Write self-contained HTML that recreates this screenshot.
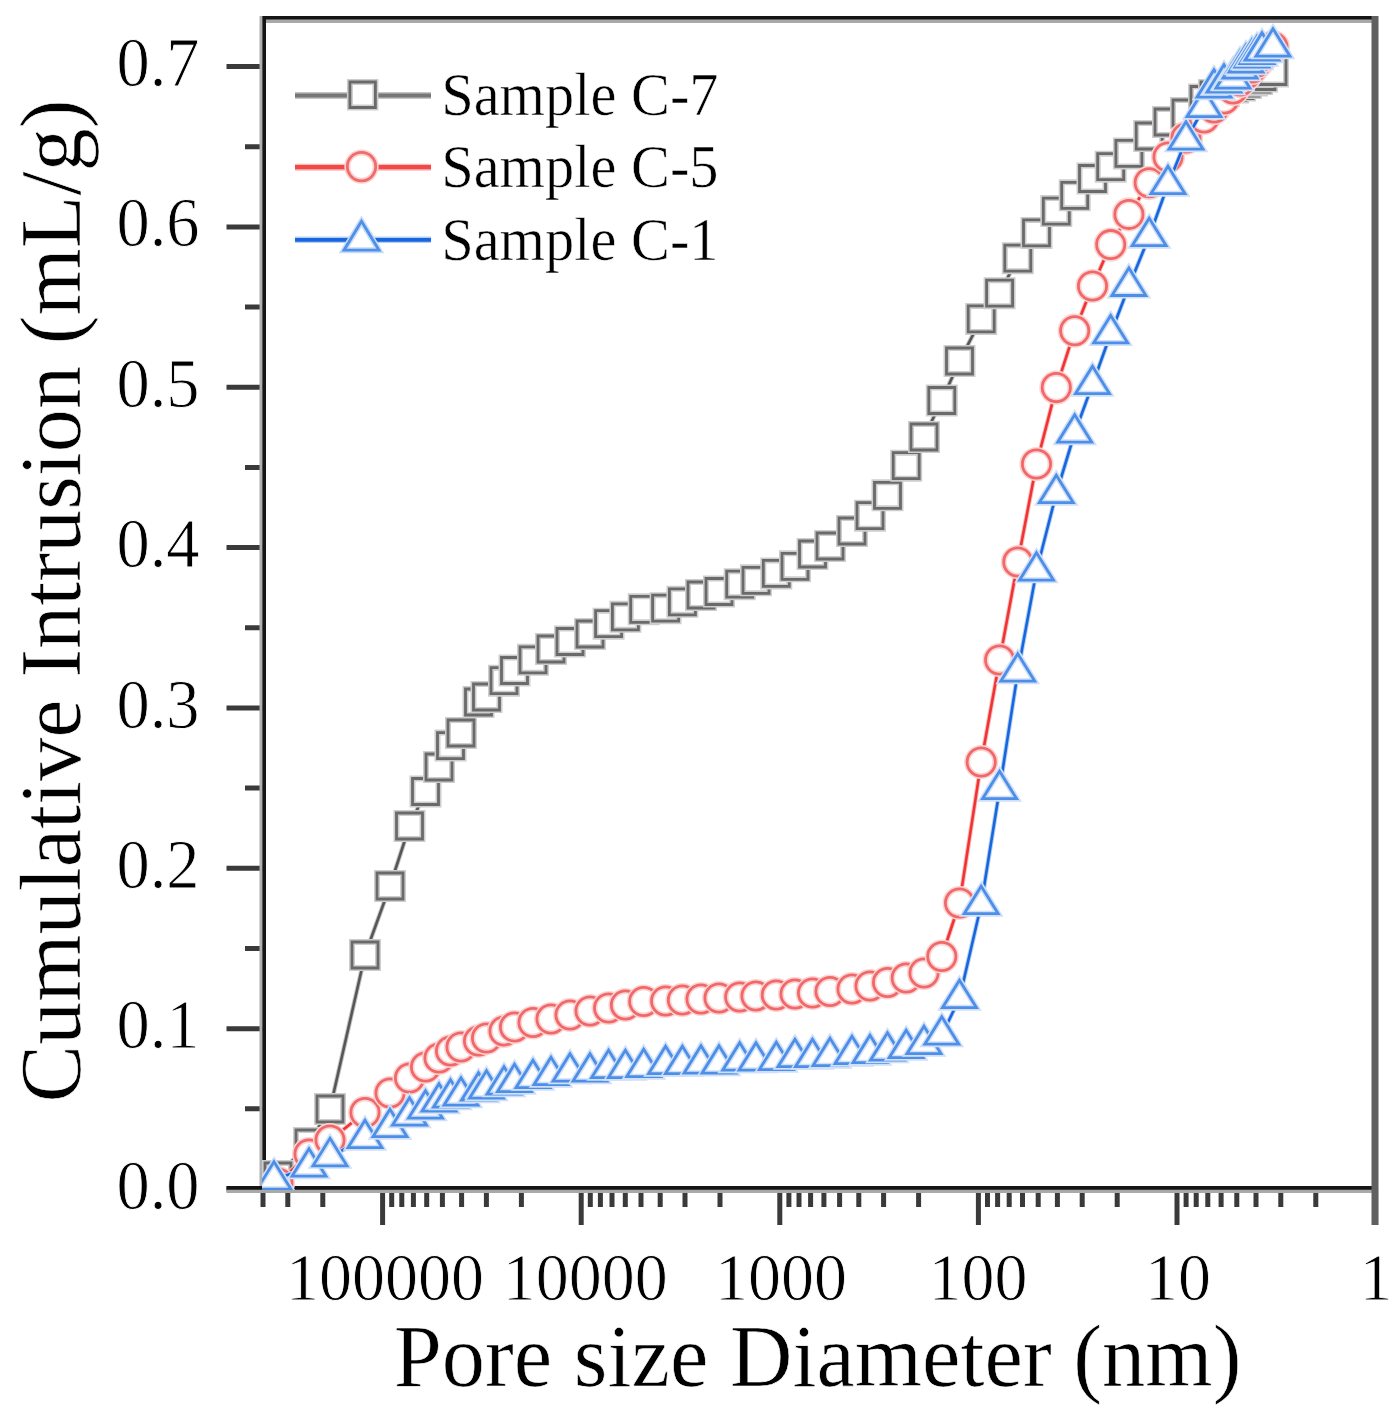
<!DOCTYPE html><html><head><meta charset="utf-8"><style>html,body{margin:0;padding:0;background:#fff;}svg{display:block;}text{font-family:"Liberation Serif",serif;fill:#000;}</style></head><body>
<svg width="1396" height="1416" viewBox="0 0 1396 1416">
<rect width="1396" height="1416" fill="#fff"/>
<g>
<path d="M226.5 1189.0H263 M226.5 1028.7H263 M226.5 868.3H263 M226.5 708.0H263 M226.5 547.6H263 M226.5 387.2H263 M226.5 226.9H263 M226.5 66.6H263 M245 1108.8H263 M245 948.5H263 M245 788.1H263 M245 627.8H263 M245 467.4H263 M245 307.1H263 M245 146.7H263" stroke="#3a3a3a" stroke-width="5" fill="none"/>
<path d="M1375.6 1189V1225 M1177.0 1189V1225 M978.4 1189V1225 M779.8 1189V1225 M581.2 1189V1225 M382.6 1189V1225 M1315.8 1189V1207 M1280.8 1189V1207 M1256.0 1189V1207 M1236.8 1189V1207 M1221.1 1189V1207 M1207.8 1189V1207 M1196.2 1189V1207 M1186.1 1189V1207 M1117.2 1189V1207 M1082.2 1189V1207 M1057.4 1189V1207 M1038.2 1189V1207 M1022.5 1189V1207 M1009.2 1189V1207 M997.6 1189V1207 M987.5 1189V1207 M918.6 1189V1207 M883.6 1189V1207 M858.8 1189V1207 M839.6 1189V1207 M823.9 1189V1207 M810.6 1189V1207 M799.0 1189V1207 M788.9 1189V1207 M720.0 1189V1207 M685.0 1189V1207 M660.2 1189V1207 M641.0 1189V1207 M625.3 1189V1207 M612.0 1189V1207 M600.4 1189V1207 M590.3 1189V1207 M521.4 1189V1207 M486.4 1189V1207 M461.6 1189V1207 M442.4 1189V1207 M426.7 1189V1207 M413.4 1189V1207 M401.8 1189V1207 M391.7 1189V1207 M322.8 1189V1207 M287.8 1189V1207 M263.0 1189V1207" stroke="#3a3a3a" stroke-width="5" fill="none"/>
<path d="M261 19.5H1376.5" stroke="#a9a9a9" stroke-width="7" fill="none"/>
<path d="M261 17.8H1375" stroke="#151515" stroke-width="3.6" fill="none"/>
<path d="M261.2 16V1191" stroke="#b0b0b0" stroke-width="3.4" fill="none"/>
<path d="M264.2 16V1191" stroke="#151515" stroke-width="3.6" fill="none"/>
<path d="M226.5 1189.5H1376" stroke="#a9a9a9" stroke-width="7" fill="none"/>
<path d="M226.5 1187.9H1375" stroke="#151515" stroke-width="3.8" fill="none"/>
<path d="M1375 16V1225" stroke="#606060" stroke-width="7" fill="none"/>
<defs><clipPath id="pc"><rect x="262" y="17" width="1114" height="1173"/></clipPath></defs><g clip-path="url(#pc)">
<path d="M278.0 1176.0 L309.0 1143.0 L330.0 1109.0 L365.0 955.0 L390.0 886.0 L409.5 826.0 L425.5 791.5 L439.0 767.0 L450.5 745.6 L461.0 733.0 L478.5 702.0 L486.5 697.0 L504.0 680.7 L514.5 670.5 L533.0 659.8 L551.0 649.0 L570.0 641.5 L590.0 634.0 L608.6 623.7 L625.4 616.8 L643.7 609.3 L665.6 608.2 L682.4 601.8 L701.0 595.0 L719.0 591.5 L739.7 584.2 L756.0 580.3 L776.3 573.4 L795.0 566.3 L812.5 554.0 L830.0 546.0 L852.0 531.0 L870.0 515.7 L887.5 495.3 L906.2 465.7 L924.0 437.0 L941.8 400.5 L959.5 361.0 L981.2 318.9 L999.6 293.2 L1017.8 258.2 L1036.5 232.9 L1056.3 211.1 L1074.7 195.3 L1092.5 178.5 L1110.7 166.7 L1128.9 153.4 L1149.2 136.0 L1168.0 122.0 L1186.0 113.0 L1204.0 99.5 L1214.0 95.0 L1224.0 91.0 L1233.0 87.5 L1240.0 85.5 L1246.0 83.0 L1252.0 80.5 L1257.0 79.0 L1262.0 76.5 L1273.0 71.5" stroke="#c4c4c4" stroke-width="4.6" fill="none" stroke-linejoin="round"/>
<path d="M278.0 1176.0 L309.0 1143.0 L330.0 1109.0 L365.0 955.0 L390.0 886.0 L409.5 826.0 L425.5 791.5 L439.0 767.0 L450.5 745.6 L461.0 733.0 L478.5 702.0 L486.5 697.0 L504.0 680.7 L514.5 670.5 L533.0 659.8 L551.0 649.0 L570.0 641.5 L590.0 634.0 L608.6 623.7 L625.4 616.8 L643.7 609.3 L665.6 608.2 L682.4 601.8 L701.0 595.0 L719.0 591.5 L739.7 584.2 L756.0 580.3 L776.3 573.4 L795.0 566.3 L812.5 554.0 L830.0 546.0 L852.0 531.0 L870.0 515.7 L887.5 495.3 L906.2 465.7 L924.0 437.0 L941.8 400.5 L959.5 361.0 L981.2 318.9 L999.6 293.2 L1017.8 258.2 L1036.5 232.9 L1056.3 211.1 L1074.7 195.3 L1092.5 178.5 L1110.7 166.7 L1128.9 153.4 L1149.2 136.0 L1168.0 122.0 L1186.0 113.0 L1204.0 99.5 L1214.0 95.0 L1224.0 91.0 L1233.0 87.5 L1240.0 85.5 L1246.0 83.0 L1252.0 80.5 L1257.0 79.0 L1262.0 76.5 L1273.0 71.5" stroke="#575757" stroke-width="2.6" fill="none" stroke-linejoin="round"/>
<g><path d="M265.0 1163.0h26v26h-26Z" fill="#fff" stroke="#cdcdcd" stroke-width="6"/><path d="M265.0 1163.0h26v26h-26Z" fill="none" stroke="#6a6a6a" stroke-width="2.8"/><path d="M296.0 1130.0h26v26h-26Z" fill="#fff" stroke="#cdcdcd" stroke-width="6"/><path d="M296.0 1130.0h26v26h-26Z" fill="none" stroke="#6a6a6a" stroke-width="2.8"/><path d="M317.0 1096.0h26v26h-26Z" fill="#fff" stroke="#cdcdcd" stroke-width="6"/><path d="M317.0 1096.0h26v26h-26Z" fill="none" stroke="#6a6a6a" stroke-width="2.8"/><path d="M352.0 942.0h26v26h-26Z" fill="#fff" stroke="#cdcdcd" stroke-width="6"/><path d="M352.0 942.0h26v26h-26Z" fill="none" stroke="#6a6a6a" stroke-width="2.8"/><path d="M377.0 873.0h26v26h-26Z" fill="#fff" stroke="#cdcdcd" stroke-width="6"/><path d="M377.0 873.0h26v26h-26Z" fill="none" stroke="#6a6a6a" stroke-width="2.8"/><path d="M396.5 813.0h26v26h-26Z" fill="#fff" stroke="#cdcdcd" stroke-width="6"/><path d="M396.5 813.0h26v26h-26Z" fill="none" stroke="#6a6a6a" stroke-width="2.8"/><path d="M412.5 778.5h26v26h-26Z" fill="#fff" stroke="#cdcdcd" stroke-width="6"/><path d="M412.5 778.5h26v26h-26Z" fill="none" stroke="#6a6a6a" stroke-width="2.8"/><path d="M426.0 754.0h26v26h-26Z" fill="#fff" stroke="#cdcdcd" stroke-width="6"/><path d="M426.0 754.0h26v26h-26Z" fill="none" stroke="#6a6a6a" stroke-width="2.8"/><path d="M437.5 732.6h26v26h-26Z" fill="#fff" stroke="#cdcdcd" stroke-width="6"/><path d="M437.5 732.6h26v26h-26Z" fill="none" stroke="#6a6a6a" stroke-width="2.8"/><path d="M448.0 720.0h26v26h-26Z" fill="#fff" stroke="#cdcdcd" stroke-width="6"/><path d="M448.0 720.0h26v26h-26Z" fill="none" stroke="#6a6a6a" stroke-width="2.8"/><path d="M465.5 689.0h26v26h-26Z" fill="#fff" stroke="#cdcdcd" stroke-width="6"/><path d="M465.5 689.0h26v26h-26Z" fill="none" stroke="#6a6a6a" stroke-width="2.8"/><path d="M473.5 684.0h26v26h-26Z" fill="#fff" stroke="#cdcdcd" stroke-width="6"/><path d="M473.5 684.0h26v26h-26Z" fill="none" stroke="#6a6a6a" stroke-width="2.8"/><path d="M491.0 667.7h26v26h-26Z" fill="#fff" stroke="#cdcdcd" stroke-width="6"/><path d="M491.0 667.7h26v26h-26Z" fill="none" stroke="#6a6a6a" stroke-width="2.8"/><path d="M501.5 657.5h26v26h-26Z" fill="#fff" stroke="#cdcdcd" stroke-width="6"/><path d="M501.5 657.5h26v26h-26Z" fill="none" stroke="#6a6a6a" stroke-width="2.8"/><path d="M520.0 646.8h26v26h-26Z" fill="#fff" stroke="#cdcdcd" stroke-width="6"/><path d="M520.0 646.8h26v26h-26Z" fill="none" stroke="#6a6a6a" stroke-width="2.8"/><path d="M538.0 636.0h26v26h-26Z" fill="#fff" stroke="#cdcdcd" stroke-width="6"/><path d="M538.0 636.0h26v26h-26Z" fill="none" stroke="#6a6a6a" stroke-width="2.8"/><path d="M557.0 628.5h26v26h-26Z" fill="#fff" stroke="#cdcdcd" stroke-width="6"/><path d="M557.0 628.5h26v26h-26Z" fill="none" stroke="#6a6a6a" stroke-width="2.8"/><path d="M577.0 621.0h26v26h-26Z" fill="#fff" stroke="#cdcdcd" stroke-width="6"/><path d="M577.0 621.0h26v26h-26Z" fill="none" stroke="#6a6a6a" stroke-width="2.8"/><path d="M595.6 610.7h26v26h-26Z" fill="#fff" stroke="#cdcdcd" stroke-width="6"/><path d="M595.6 610.7h26v26h-26Z" fill="none" stroke="#6a6a6a" stroke-width="2.8"/><path d="M612.4 603.8h26v26h-26Z" fill="#fff" stroke="#cdcdcd" stroke-width="6"/><path d="M612.4 603.8h26v26h-26Z" fill="none" stroke="#6a6a6a" stroke-width="2.8"/><path d="M630.7 596.3h26v26h-26Z" fill="#fff" stroke="#cdcdcd" stroke-width="6"/><path d="M630.7 596.3h26v26h-26Z" fill="none" stroke="#6a6a6a" stroke-width="2.8"/><path d="M652.6 595.2h26v26h-26Z" fill="#fff" stroke="#cdcdcd" stroke-width="6"/><path d="M652.6 595.2h26v26h-26Z" fill="none" stroke="#6a6a6a" stroke-width="2.8"/><path d="M669.4 588.8h26v26h-26Z" fill="#fff" stroke="#cdcdcd" stroke-width="6"/><path d="M669.4 588.8h26v26h-26Z" fill="none" stroke="#6a6a6a" stroke-width="2.8"/><path d="M688.0 582.0h26v26h-26Z" fill="#fff" stroke="#cdcdcd" stroke-width="6"/><path d="M688.0 582.0h26v26h-26Z" fill="none" stroke="#6a6a6a" stroke-width="2.8"/><path d="M706.0 578.5h26v26h-26Z" fill="#fff" stroke="#cdcdcd" stroke-width="6"/><path d="M706.0 578.5h26v26h-26Z" fill="none" stroke="#6a6a6a" stroke-width="2.8"/><path d="M726.7 571.2h26v26h-26Z" fill="#fff" stroke="#cdcdcd" stroke-width="6"/><path d="M726.7 571.2h26v26h-26Z" fill="none" stroke="#6a6a6a" stroke-width="2.8"/><path d="M743.0 567.3h26v26h-26Z" fill="#fff" stroke="#cdcdcd" stroke-width="6"/><path d="M743.0 567.3h26v26h-26Z" fill="none" stroke="#6a6a6a" stroke-width="2.8"/><path d="M763.3 560.4h26v26h-26Z" fill="#fff" stroke="#cdcdcd" stroke-width="6"/><path d="M763.3 560.4h26v26h-26Z" fill="none" stroke="#6a6a6a" stroke-width="2.8"/><path d="M782.0 553.3h26v26h-26Z" fill="#fff" stroke="#cdcdcd" stroke-width="6"/><path d="M782.0 553.3h26v26h-26Z" fill="none" stroke="#6a6a6a" stroke-width="2.8"/><path d="M799.5 541.0h26v26h-26Z" fill="#fff" stroke="#cdcdcd" stroke-width="6"/><path d="M799.5 541.0h26v26h-26Z" fill="none" stroke="#6a6a6a" stroke-width="2.8"/><path d="M817.0 533.0h26v26h-26Z" fill="#fff" stroke="#cdcdcd" stroke-width="6"/><path d="M817.0 533.0h26v26h-26Z" fill="none" stroke="#6a6a6a" stroke-width="2.8"/><path d="M839.0 518.0h26v26h-26Z" fill="#fff" stroke="#cdcdcd" stroke-width="6"/><path d="M839.0 518.0h26v26h-26Z" fill="none" stroke="#6a6a6a" stroke-width="2.8"/><path d="M857.0 502.7h26v26h-26Z" fill="#fff" stroke="#cdcdcd" stroke-width="6"/><path d="M857.0 502.7h26v26h-26Z" fill="none" stroke="#6a6a6a" stroke-width="2.8"/><path d="M874.5 482.3h26v26h-26Z" fill="#fff" stroke="#cdcdcd" stroke-width="6"/><path d="M874.5 482.3h26v26h-26Z" fill="none" stroke="#6a6a6a" stroke-width="2.8"/><path d="M893.2 452.7h26v26h-26Z" fill="#fff" stroke="#cdcdcd" stroke-width="6"/><path d="M893.2 452.7h26v26h-26Z" fill="none" stroke="#6a6a6a" stroke-width="2.8"/><path d="M911.0 424.0h26v26h-26Z" fill="#fff" stroke="#cdcdcd" stroke-width="6"/><path d="M911.0 424.0h26v26h-26Z" fill="none" stroke="#6a6a6a" stroke-width="2.8"/><path d="M928.8 387.5h26v26h-26Z" fill="#fff" stroke="#cdcdcd" stroke-width="6"/><path d="M928.8 387.5h26v26h-26Z" fill="none" stroke="#6a6a6a" stroke-width="2.8"/><path d="M946.5 348.0h26v26h-26Z" fill="#fff" stroke="#cdcdcd" stroke-width="6"/><path d="M946.5 348.0h26v26h-26Z" fill="none" stroke="#6a6a6a" stroke-width="2.8"/><path d="M968.2 305.9h26v26h-26Z" fill="#fff" stroke="#cdcdcd" stroke-width="6"/><path d="M968.2 305.9h26v26h-26Z" fill="none" stroke="#6a6a6a" stroke-width="2.8"/><path d="M986.6 280.2h26v26h-26Z" fill="#fff" stroke="#cdcdcd" stroke-width="6"/><path d="M986.6 280.2h26v26h-26Z" fill="none" stroke="#6a6a6a" stroke-width="2.8"/><path d="M1004.8 245.2h26v26h-26Z" fill="#fff" stroke="#cdcdcd" stroke-width="6"/><path d="M1004.8 245.2h26v26h-26Z" fill="none" stroke="#6a6a6a" stroke-width="2.8"/><path d="M1023.5 219.9h26v26h-26Z" fill="#fff" stroke="#cdcdcd" stroke-width="6"/><path d="M1023.5 219.9h26v26h-26Z" fill="none" stroke="#6a6a6a" stroke-width="2.8"/><path d="M1043.3 198.1h26v26h-26Z" fill="#fff" stroke="#cdcdcd" stroke-width="6"/><path d="M1043.3 198.1h26v26h-26Z" fill="none" stroke="#6a6a6a" stroke-width="2.8"/><path d="M1061.7 182.3h26v26h-26Z" fill="#fff" stroke="#cdcdcd" stroke-width="6"/><path d="M1061.7 182.3h26v26h-26Z" fill="none" stroke="#6a6a6a" stroke-width="2.8"/><path d="M1079.5 165.5h26v26h-26Z" fill="#fff" stroke="#cdcdcd" stroke-width="6"/><path d="M1079.5 165.5h26v26h-26Z" fill="none" stroke="#6a6a6a" stroke-width="2.8"/><path d="M1097.7 153.7h26v26h-26Z" fill="#fff" stroke="#cdcdcd" stroke-width="6"/><path d="M1097.7 153.7h26v26h-26Z" fill="none" stroke="#6a6a6a" stroke-width="2.8"/><path d="M1115.9 140.4h26v26h-26Z" fill="#fff" stroke="#cdcdcd" stroke-width="6"/><path d="M1115.9 140.4h26v26h-26Z" fill="none" stroke="#6a6a6a" stroke-width="2.8"/><path d="M1136.2 123.0h26v26h-26Z" fill="#fff" stroke="#cdcdcd" stroke-width="6"/><path d="M1136.2 123.0h26v26h-26Z" fill="none" stroke="#6a6a6a" stroke-width="2.8"/><path d="M1155.0 109.0h26v26h-26Z" fill="#fff" stroke="#cdcdcd" stroke-width="6"/><path d="M1155.0 109.0h26v26h-26Z" fill="none" stroke="#6a6a6a" stroke-width="2.8"/><path d="M1173.0 100.0h26v26h-26Z" fill="#fff" stroke="#cdcdcd" stroke-width="6"/><path d="M1173.0 100.0h26v26h-26Z" fill="none" stroke="#6a6a6a" stroke-width="2.8"/><path d="M1191.0 86.5h26v26h-26Z" fill="#fff" stroke="#cdcdcd" stroke-width="6"/><path d="M1191.0 86.5h26v26h-26Z" fill="none" stroke="#6a6a6a" stroke-width="2.8"/><path d="M1201.0 82.0h26v26h-26Z" fill="#fff" stroke="#cdcdcd" stroke-width="6"/><path d="M1201.0 82.0h26v26h-26Z" fill="none" stroke="#6a6a6a" stroke-width="2.8"/><path d="M1211.0 78.0h26v26h-26Z" fill="#fff" stroke="#cdcdcd" stroke-width="6"/><path d="M1211.0 78.0h26v26h-26Z" fill="none" stroke="#6a6a6a" stroke-width="2.8"/><path d="M1220.0 74.5h26v26h-26Z" fill="#fff" stroke="#cdcdcd" stroke-width="6"/><path d="M1220.0 74.5h26v26h-26Z" fill="none" stroke="#6a6a6a" stroke-width="2.8"/><path d="M1227.0 72.5h26v26h-26Z" fill="#fff" stroke="#cdcdcd" stroke-width="6"/><path d="M1227.0 72.5h26v26h-26Z" fill="none" stroke="#6a6a6a" stroke-width="2.8"/><path d="M1233.0 70.0h26v26h-26Z" fill="#fff" stroke="#cdcdcd" stroke-width="6"/><path d="M1233.0 70.0h26v26h-26Z" fill="none" stroke="#6a6a6a" stroke-width="2.8"/><path d="M1239.0 67.5h26v26h-26Z" fill="#fff" stroke="#cdcdcd" stroke-width="6"/><path d="M1239.0 67.5h26v26h-26Z" fill="none" stroke="#6a6a6a" stroke-width="2.8"/><path d="M1244.0 66.0h26v26h-26Z" fill="#fff" stroke="#cdcdcd" stroke-width="6"/><path d="M1244.0 66.0h26v26h-26Z" fill="none" stroke="#6a6a6a" stroke-width="2.8"/><path d="M1249.0 63.5h26v26h-26Z" fill="#fff" stroke="#cdcdcd" stroke-width="6"/><path d="M1249.0 63.5h26v26h-26Z" fill="none" stroke="#6a6a6a" stroke-width="2.8"/><path d="M1260.0 58.5h26v26h-26Z" fill="#fff" stroke="#cdcdcd" stroke-width="6"/><path d="M1260.0 58.5h26v26h-26Z" fill="none" stroke="#6a6a6a" stroke-width="2.8"/></g>
<path d="M278.0 1183.0 L309.0 1154.0 L330.0 1140.0 L365.0 1112.5 L390.0 1093.0 L409.5 1078.0 L425.5 1067.0 L439.0 1058.0 L450.5 1051.0 L461.0 1047.0 L478.5 1041.0 L486.5 1038.0 L504.0 1031.0 L514.5 1027.0 L533.0 1022.5 L551.0 1019.0 L570.0 1015.0 L590.0 1011.0 L608.6 1008.0 L625.4 1005.0 L643.7 1001.5 L665.6 1001.0 L682.4 1000.0 L701.0 999.0 L719.0 998.0 L739.7 997.0 L756.0 996.0 L776.3 995.0 L795.0 994.0 L812.5 993.0 L830.0 991.5 L852.0 989.0 L870.0 986.0 L887.5 982.5 L906.2 978.0 L924.0 973.0 L941.8 956.5 L959.5 903.0 L981.2 762.0 L999.6 660.0 L1017.8 562.0 L1036.5 464.0 L1056.3 387.6 L1074.7 330.7 L1092.5 286.0 L1110.7 244.6 L1128.9 214.4 L1149.2 182.8 L1168.0 157.0 L1186.0 138.0 L1204.0 118.0 L1214.0 108.0 L1224.0 99.0 L1233.0 89.0 L1240.0 81.0 L1246.0 74.0 L1252.0 68.0 L1257.0 62.0 L1262.0 56.0 L1273.0 47.0" stroke="#f9bdbd" stroke-width="4.6" fill="none" stroke-linejoin="round"/>
<path d="M278.0 1183.0 L309.0 1154.0 L330.0 1140.0 L365.0 1112.5 L390.0 1093.0 L409.5 1078.0 L425.5 1067.0 L439.0 1058.0 L450.5 1051.0 L461.0 1047.0 L478.5 1041.0 L486.5 1038.0 L504.0 1031.0 L514.5 1027.0 L533.0 1022.5 L551.0 1019.0 L570.0 1015.0 L590.0 1011.0 L608.6 1008.0 L625.4 1005.0 L643.7 1001.5 L665.6 1001.0 L682.4 1000.0 L701.0 999.0 L719.0 998.0 L739.7 997.0 L756.0 996.0 L776.3 995.0 L795.0 994.0 L812.5 993.0 L830.0 991.5 L852.0 989.0 L870.0 986.0 L887.5 982.5 L906.2 978.0 L924.0 973.0 L941.8 956.5 L959.5 903.0 L981.2 762.0 L999.6 660.0 L1017.8 562.0 L1036.5 464.0 L1056.3 387.6 L1074.7 330.7 L1092.5 286.0 L1110.7 244.6 L1128.9 214.4 L1149.2 182.8 L1168.0 157.0 L1186.0 138.0 L1204.0 118.0 L1214.0 108.0 L1224.0 99.0 L1233.0 89.0 L1240.0 81.0 L1246.0 74.0 L1252.0 68.0 L1257.0 62.0 L1262.0 56.0 L1273.0 47.0" stroke="#f03333" stroke-width="2.6" fill="none" stroke-linejoin="round"/>
<g><path d="M263.9 1183.0a14.1 14.1 0 1 0 28.2 0a14.1 14.1 0 1 0 -28.2 0Z" fill="#fff" stroke="#fbd5d5" stroke-width="6"/><path d="M263.9 1183.0a14.1 14.1 0 1 0 28.2 0a14.1 14.1 0 1 0 -28.2 0Z" fill="none" stroke="#f26868" stroke-width="2.8"/><path d="M294.9 1154.0a14.1 14.1 0 1 0 28.2 0a14.1 14.1 0 1 0 -28.2 0Z" fill="#fff" stroke="#fbd5d5" stroke-width="6"/><path d="M294.9 1154.0a14.1 14.1 0 1 0 28.2 0a14.1 14.1 0 1 0 -28.2 0Z" fill="none" stroke="#f26868" stroke-width="2.8"/><path d="M315.9 1140.0a14.1 14.1 0 1 0 28.2 0a14.1 14.1 0 1 0 -28.2 0Z" fill="#fff" stroke="#fbd5d5" stroke-width="6"/><path d="M315.9 1140.0a14.1 14.1 0 1 0 28.2 0a14.1 14.1 0 1 0 -28.2 0Z" fill="none" stroke="#f26868" stroke-width="2.8"/><path d="M350.9 1112.5a14.1 14.1 0 1 0 28.2 0a14.1 14.1 0 1 0 -28.2 0Z" fill="#fff" stroke="#fbd5d5" stroke-width="6"/><path d="M350.9 1112.5a14.1 14.1 0 1 0 28.2 0a14.1 14.1 0 1 0 -28.2 0Z" fill="none" stroke="#f26868" stroke-width="2.8"/><path d="M375.9 1093.0a14.1 14.1 0 1 0 28.2 0a14.1 14.1 0 1 0 -28.2 0Z" fill="#fff" stroke="#fbd5d5" stroke-width="6"/><path d="M375.9 1093.0a14.1 14.1 0 1 0 28.2 0a14.1 14.1 0 1 0 -28.2 0Z" fill="none" stroke="#f26868" stroke-width="2.8"/><path d="M395.4 1078.0a14.1 14.1 0 1 0 28.2 0a14.1 14.1 0 1 0 -28.2 0Z" fill="#fff" stroke="#fbd5d5" stroke-width="6"/><path d="M395.4 1078.0a14.1 14.1 0 1 0 28.2 0a14.1 14.1 0 1 0 -28.2 0Z" fill="none" stroke="#f26868" stroke-width="2.8"/><path d="M411.4 1067.0a14.1 14.1 0 1 0 28.2 0a14.1 14.1 0 1 0 -28.2 0Z" fill="#fff" stroke="#fbd5d5" stroke-width="6"/><path d="M411.4 1067.0a14.1 14.1 0 1 0 28.2 0a14.1 14.1 0 1 0 -28.2 0Z" fill="none" stroke="#f26868" stroke-width="2.8"/><path d="M424.9 1058.0a14.1 14.1 0 1 0 28.2 0a14.1 14.1 0 1 0 -28.2 0Z" fill="#fff" stroke="#fbd5d5" stroke-width="6"/><path d="M424.9 1058.0a14.1 14.1 0 1 0 28.2 0a14.1 14.1 0 1 0 -28.2 0Z" fill="none" stroke="#f26868" stroke-width="2.8"/><path d="M436.4 1051.0a14.1 14.1 0 1 0 28.2 0a14.1 14.1 0 1 0 -28.2 0Z" fill="#fff" stroke="#fbd5d5" stroke-width="6"/><path d="M436.4 1051.0a14.1 14.1 0 1 0 28.2 0a14.1 14.1 0 1 0 -28.2 0Z" fill="none" stroke="#f26868" stroke-width="2.8"/><path d="M446.9 1047.0a14.1 14.1 0 1 0 28.2 0a14.1 14.1 0 1 0 -28.2 0Z" fill="#fff" stroke="#fbd5d5" stroke-width="6"/><path d="M446.9 1047.0a14.1 14.1 0 1 0 28.2 0a14.1 14.1 0 1 0 -28.2 0Z" fill="none" stroke="#f26868" stroke-width="2.8"/><path d="M464.4 1041.0a14.1 14.1 0 1 0 28.2 0a14.1 14.1 0 1 0 -28.2 0Z" fill="#fff" stroke="#fbd5d5" stroke-width="6"/><path d="M464.4 1041.0a14.1 14.1 0 1 0 28.2 0a14.1 14.1 0 1 0 -28.2 0Z" fill="none" stroke="#f26868" stroke-width="2.8"/><path d="M472.4 1038.0a14.1 14.1 0 1 0 28.2 0a14.1 14.1 0 1 0 -28.2 0Z" fill="#fff" stroke="#fbd5d5" stroke-width="6"/><path d="M472.4 1038.0a14.1 14.1 0 1 0 28.2 0a14.1 14.1 0 1 0 -28.2 0Z" fill="none" stroke="#f26868" stroke-width="2.8"/><path d="M489.9 1031.0a14.1 14.1 0 1 0 28.2 0a14.1 14.1 0 1 0 -28.2 0Z" fill="#fff" stroke="#fbd5d5" stroke-width="6"/><path d="M489.9 1031.0a14.1 14.1 0 1 0 28.2 0a14.1 14.1 0 1 0 -28.2 0Z" fill="none" stroke="#f26868" stroke-width="2.8"/><path d="M500.4 1027.0a14.1 14.1 0 1 0 28.2 0a14.1 14.1 0 1 0 -28.2 0Z" fill="#fff" stroke="#fbd5d5" stroke-width="6"/><path d="M500.4 1027.0a14.1 14.1 0 1 0 28.2 0a14.1 14.1 0 1 0 -28.2 0Z" fill="none" stroke="#f26868" stroke-width="2.8"/><path d="M518.9 1022.5a14.1 14.1 0 1 0 28.2 0a14.1 14.1 0 1 0 -28.2 0Z" fill="#fff" stroke="#fbd5d5" stroke-width="6"/><path d="M518.9 1022.5a14.1 14.1 0 1 0 28.2 0a14.1 14.1 0 1 0 -28.2 0Z" fill="none" stroke="#f26868" stroke-width="2.8"/><path d="M536.9 1019.0a14.1 14.1 0 1 0 28.2 0a14.1 14.1 0 1 0 -28.2 0Z" fill="#fff" stroke="#fbd5d5" stroke-width="6"/><path d="M536.9 1019.0a14.1 14.1 0 1 0 28.2 0a14.1 14.1 0 1 0 -28.2 0Z" fill="none" stroke="#f26868" stroke-width="2.8"/><path d="M555.9 1015.0a14.1 14.1 0 1 0 28.2 0a14.1 14.1 0 1 0 -28.2 0Z" fill="#fff" stroke="#fbd5d5" stroke-width="6"/><path d="M555.9 1015.0a14.1 14.1 0 1 0 28.2 0a14.1 14.1 0 1 0 -28.2 0Z" fill="none" stroke="#f26868" stroke-width="2.8"/><path d="M575.9 1011.0a14.1 14.1 0 1 0 28.2 0a14.1 14.1 0 1 0 -28.2 0Z" fill="#fff" stroke="#fbd5d5" stroke-width="6"/><path d="M575.9 1011.0a14.1 14.1 0 1 0 28.2 0a14.1 14.1 0 1 0 -28.2 0Z" fill="none" stroke="#f26868" stroke-width="2.8"/><path d="M594.5 1008.0a14.1 14.1 0 1 0 28.2 0a14.1 14.1 0 1 0 -28.2 0Z" fill="#fff" stroke="#fbd5d5" stroke-width="6"/><path d="M594.5 1008.0a14.1 14.1 0 1 0 28.2 0a14.1 14.1 0 1 0 -28.2 0Z" fill="none" stroke="#f26868" stroke-width="2.8"/><path d="M611.3 1005.0a14.1 14.1 0 1 0 28.2 0a14.1 14.1 0 1 0 -28.2 0Z" fill="#fff" stroke="#fbd5d5" stroke-width="6"/><path d="M611.3 1005.0a14.1 14.1 0 1 0 28.2 0a14.1 14.1 0 1 0 -28.2 0Z" fill="none" stroke="#f26868" stroke-width="2.8"/><path d="M629.6 1001.5a14.1 14.1 0 1 0 28.2 0a14.1 14.1 0 1 0 -28.2 0Z" fill="#fff" stroke="#fbd5d5" stroke-width="6"/><path d="M629.6 1001.5a14.1 14.1 0 1 0 28.2 0a14.1 14.1 0 1 0 -28.2 0Z" fill="none" stroke="#f26868" stroke-width="2.8"/><path d="M651.5 1001.0a14.1 14.1 0 1 0 28.2 0a14.1 14.1 0 1 0 -28.2 0Z" fill="#fff" stroke="#fbd5d5" stroke-width="6"/><path d="M651.5 1001.0a14.1 14.1 0 1 0 28.2 0a14.1 14.1 0 1 0 -28.2 0Z" fill="none" stroke="#f26868" stroke-width="2.8"/><path d="M668.3 1000.0a14.1 14.1 0 1 0 28.2 0a14.1 14.1 0 1 0 -28.2 0Z" fill="#fff" stroke="#fbd5d5" stroke-width="6"/><path d="M668.3 1000.0a14.1 14.1 0 1 0 28.2 0a14.1 14.1 0 1 0 -28.2 0Z" fill="none" stroke="#f26868" stroke-width="2.8"/><path d="M686.9 999.0a14.1 14.1 0 1 0 28.2 0a14.1 14.1 0 1 0 -28.2 0Z" fill="#fff" stroke="#fbd5d5" stroke-width="6"/><path d="M686.9 999.0a14.1 14.1 0 1 0 28.2 0a14.1 14.1 0 1 0 -28.2 0Z" fill="none" stroke="#f26868" stroke-width="2.8"/><path d="M704.9 998.0a14.1 14.1 0 1 0 28.2 0a14.1 14.1 0 1 0 -28.2 0Z" fill="#fff" stroke="#fbd5d5" stroke-width="6"/><path d="M704.9 998.0a14.1 14.1 0 1 0 28.2 0a14.1 14.1 0 1 0 -28.2 0Z" fill="none" stroke="#f26868" stroke-width="2.8"/><path d="M725.6 997.0a14.1 14.1 0 1 0 28.2 0a14.1 14.1 0 1 0 -28.2 0Z" fill="#fff" stroke="#fbd5d5" stroke-width="6"/><path d="M725.6 997.0a14.1 14.1 0 1 0 28.2 0a14.1 14.1 0 1 0 -28.2 0Z" fill="none" stroke="#f26868" stroke-width="2.8"/><path d="M741.9 996.0a14.1 14.1 0 1 0 28.2 0a14.1 14.1 0 1 0 -28.2 0Z" fill="#fff" stroke="#fbd5d5" stroke-width="6"/><path d="M741.9 996.0a14.1 14.1 0 1 0 28.2 0a14.1 14.1 0 1 0 -28.2 0Z" fill="none" stroke="#f26868" stroke-width="2.8"/><path d="M762.2 995.0a14.1 14.1 0 1 0 28.2 0a14.1 14.1 0 1 0 -28.2 0Z" fill="#fff" stroke="#fbd5d5" stroke-width="6"/><path d="M762.2 995.0a14.1 14.1 0 1 0 28.2 0a14.1 14.1 0 1 0 -28.2 0Z" fill="none" stroke="#f26868" stroke-width="2.8"/><path d="M780.9 994.0a14.1 14.1 0 1 0 28.2 0a14.1 14.1 0 1 0 -28.2 0Z" fill="#fff" stroke="#fbd5d5" stroke-width="6"/><path d="M780.9 994.0a14.1 14.1 0 1 0 28.2 0a14.1 14.1 0 1 0 -28.2 0Z" fill="none" stroke="#f26868" stroke-width="2.8"/><path d="M798.4 993.0a14.1 14.1 0 1 0 28.2 0a14.1 14.1 0 1 0 -28.2 0Z" fill="#fff" stroke="#fbd5d5" stroke-width="6"/><path d="M798.4 993.0a14.1 14.1 0 1 0 28.2 0a14.1 14.1 0 1 0 -28.2 0Z" fill="none" stroke="#f26868" stroke-width="2.8"/><path d="M815.9 991.5a14.1 14.1 0 1 0 28.2 0a14.1 14.1 0 1 0 -28.2 0Z" fill="#fff" stroke="#fbd5d5" stroke-width="6"/><path d="M815.9 991.5a14.1 14.1 0 1 0 28.2 0a14.1 14.1 0 1 0 -28.2 0Z" fill="none" stroke="#f26868" stroke-width="2.8"/><path d="M837.9 989.0a14.1 14.1 0 1 0 28.2 0a14.1 14.1 0 1 0 -28.2 0Z" fill="#fff" stroke="#fbd5d5" stroke-width="6"/><path d="M837.9 989.0a14.1 14.1 0 1 0 28.2 0a14.1 14.1 0 1 0 -28.2 0Z" fill="none" stroke="#f26868" stroke-width="2.8"/><path d="M855.9 986.0a14.1 14.1 0 1 0 28.2 0a14.1 14.1 0 1 0 -28.2 0Z" fill="#fff" stroke="#fbd5d5" stroke-width="6"/><path d="M855.9 986.0a14.1 14.1 0 1 0 28.2 0a14.1 14.1 0 1 0 -28.2 0Z" fill="none" stroke="#f26868" stroke-width="2.8"/><path d="M873.4 982.5a14.1 14.1 0 1 0 28.2 0a14.1 14.1 0 1 0 -28.2 0Z" fill="#fff" stroke="#fbd5d5" stroke-width="6"/><path d="M873.4 982.5a14.1 14.1 0 1 0 28.2 0a14.1 14.1 0 1 0 -28.2 0Z" fill="none" stroke="#f26868" stroke-width="2.8"/><path d="M892.1 978.0a14.1 14.1 0 1 0 28.2 0a14.1 14.1 0 1 0 -28.2 0Z" fill="#fff" stroke="#fbd5d5" stroke-width="6"/><path d="M892.1 978.0a14.1 14.1 0 1 0 28.2 0a14.1 14.1 0 1 0 -28.2 0Z" fill="none" stroke="#f26868" stroke-width="2.8"/><path d="M909.9 973.0a14.1 14.1 0 1 0 28.2 0a14.1 14.1 0 1 0 -28.2 0Z" fill="#fff" stroke="#fbd5d5" stroke-width="6"/><path d="M909.9 973.0a14.1 14.1 0 1 0 28.2 0a14.1 14.1 0 1 0 -28.2 0Z" fill="none" stroke="#f26868" stroke-width="2.8"/><path d="M927.7 956.5a14.1 14.1 0 1 0 28.2 0a14.1 14.1 0 1 0 -28.2 0Z" fill="#fff" stroke="#fbd5d5" stroke-width="6"/><path d="M927.7 956.5a14.1 14.1 0 1 0 28.2 0a14.1 14.1 0 1 0 -28.2 0Z" fill="none" stroke="#f26868" stroke-width="2.8"/><path d="M945.4 903.0a14.1 14.1 0 1 0 28.2 0a14.1 14.1 0 1 0 -28.2 0Z" fill="#fff" stroke="#fbd5d5" stroke-width="6"/><path d="M945.4 903.0a14.1 14.1 0 1 0 28.2 0a14.1 14.1 0 1 0 -28.2 0Z" fill="none" stroke="#f26868" stroke-width="2.8"/><path d="M967.1 762.0a14.1 14.1 0 1 0 28.2 0a14.1 14.1 0 1 0 -28.2 0Z" fill="#fff" stroke="#fbd5d5" stroke-width="6"/><path d="M967.1 762.0a14.1 14.1 0 1 0 28.2 0a14.1 14.1 0 1 0 -28.2 0Z" fill="none" stroke="#f26868" stroke-width="2.8"/><path d="M985.5 660.0a14.1 14.1 0 1 0 28.2 0a14.1 14.1 0 1 0 -28.2 0Z" fill="#fff" stroke="#fbd5d5" stroke-width="6"/><path d="M985.5 660.0a14.1 14.1 0 1 0 28.2 0a14.1 14.1 0 1 0 -28.2 0Z" fill="none" stroke="#f26868" stroke-width="2.8"/><path d="M1003.7 562.0a14.1 14.1 0 1 0 28.2 0a14.1 14.1 0 1 0 -28.2 0Z" fill="#fff" stroke="#fbd5d5" stroke-width="6"/><path d="M1003.7 562.0a14.1 14.1 0 1 0 28.2 0a14.1 14.1 0 1 0 -28.2 0Z" fill="none" stroke="#f26868" stroke-width="2.8"/><path d="M1022.4 464.0a14.1 14.1 0 1 0 28.2 0a14.1 14.1 0 1 0 -28.2 0Z" fill="#fff" stroke="#fbd5d5" stroke-width="6"/><path d="M1022.4 464.0a14.1 14.1 0 1 0 28.2 0a14.1 14.1 0 1 0 -28.2 0Z" fill="none" stroke="#f26868" stroke-width="2.8"/><path d="M1042.2 387.6a14.1 14.1 0 1 0 28.2 0a14.1 14.1 0 1 0 -28.2 0Z" fill="#fff" stroke="#fbd5d5" stroke-width="6"/><path d="M1042.2 387.6a14.1 14.1 0 1 0 28.2 0a14.1 14.1 0 1 0 -28.2 0Z" fill="none" stroke="#f26868" stroke-width="2.8"/><path d="M1060.6 330.7a14.1 14.1 0 1 0 28.2 0a14.1 14.1 0 1 0 -28.2 0Z" fill="#fff" stroke="#fbd5d5" stroke-width="6"/><path d="M1060.6 330.7a14.1 14.1 0 1 0 28.2 0a14.1 14.1 0 1 0 -28.2 0Z" fill="none" stroke="#f26868" stroke-width="2.8"/><path d="M1078.4 286.0a14.1 14.1 0 1 0 28.2 0a14.1 14.1 0 1 0 -28.2 0Z" fill="#fff" stroke="#fbd5d5" stroke-width="6"/><path d="M1078.4 286.0a14.1 14.1 0 1 0 28.2 0a14.1 14.1 0 1 0 -28.2 0Z" fill="none" stroke="#f26868" stroke-width="2.8"/><path d="M1096.6 244.6a14.1 14.1 0 1 0 28.2 0a14.1 14.1 0 1 0 -28.2 0Z" fill="#fff" stroke="#fbd5d5" stroke-width="6"/><path d="M1096.6 244.6a14.1 14.1 0 1 0 28.2 0a14.1 14.1 0 1 0 -28.2 0Z" fill="none" stroke="#f26868" stroke-width="2.8"/><path d="M1114.8 214.4a14.1 14.1 0 1 0 28.2 0a14.1 14.1 0 1 0 -28.2 0Z" fill="#fff" stroke="#fbd5d5" stroke-width="6"/><path d="M1114.8 214.4a14.1 14.1 0 1 0 28.2 0a14.1 14.1 0 1 0 -28.2 0Z" fill="none" stroke="#f26868" stroke-width="2.8"/><path d="M1135.1 182.8a14.1 14.1 0 1 0 28.2 0a14.1 14.1 0 1 0 -28.2 0Z" fill="#fff" stroke="#fbd5d5" stroke-width="6"/><path d="M1135.1 182.8a14.1 14.1 0 1 0 28.2 0a14.1 14.1 0 1 0 -28.2 0Z" fill="none" stroke="#f26868" stroke-width="2.8"/><path d="M1153.9 157.0a14.1 14.1 0 1 0 28.2 0a14.1 14.1 0 1 0 -28.2 0Z" fill="#fff" stroke="#fbd5d5" stroke-width="6"/><path d="M1153.9 157.0a14.1 14.1 0 1 0 28.2 0a14.1 14.1 0 1 0 -28.2 0Z" fill="none" stroke="#f26868" stroke-width="2.8"/><path d="M1171.9 138.0a14.1 14.1 0 1 0 28.2 0a14.1 14.1 0 1 0 -28.2 0Z" fill="#fff" stroke="#fbd5d5" stroke-width="6"/><path d="M1171.9 138.0a14.1 14.1 0 1 0 28.2 0a14.1 14.1 0 1 0 -28.2 0Z" fill="none" stroke="#f26868" stroke-width="2.8"/><path d="M1189.9 118.0a14.1 14.1 0 1 0 28.2 0a14.1 14.1 0 1 0 -28.2 0Z" fill="#fff" stroke="#fbd5d5" stroke-width="6"/><path d="M1189.9 118.0a14.1 14.1 0 1 0 28.2 0a14.1 14.1 0 1 0 -28.2 0Z" fill="none" stroke="#f26868" stroke-width="2.8"/><path d="M1199.9 108.0a14.1 14.1 0 1 0 28.2 0a14.1 14.1 0 1 0 -28.2 0Z" fill="#fff" stroke="#fbd5d5" stroke-width="6"/><path d="M1199.9 108.0a14.1 14.1 0 1 0 28.2 0a14.1 14.1 0 1 0 -28.2 0Z" fill="none" stroke="#f26868" stroke-width="2.8"/><path d="M1209.9 99.0a14.1 14.1 0 1 0 28.2 0a14.1 14.1 0 1 0 -28.2 0Z" fill="#fff" stroke="#fbd5d5" stroke-width="6"/><path d="M1209.9 99.0a14.1 14.1 0 1 0 28.2 0a14.1 14.1 0 1 0 -28.2 0Z" fill="none" stroke="#f26868" stroke-width="2.8"/><path d="M1218.9 89.0a14.1 14.1 0 1 0 28.2 0a14.1 14.1 0 1 0 -28.2 0Z" fill="#fff" stroke="#fbd5d5" stroke-width="6"/><path d="M1218.9 89.0a14.1 14.1 0 1 0 28.2 0a14.1 14.1 0 1 0 -28.2 0Z" fill="none" stroke="#f26868" stroke-width="2.8"/><path d="M1225.9 81.0a14.1 14.1 0 1 0 28.2 0a14.1 14.1 0 1 0 -28.2 0Z" fill="#fff" stroke="#fbd5d5" stroke-width="6"/><path d="M1225.9 81.0a14.1 14.1 0 1 0 28.2 0a14.1 14.1 0 1 0 -28.2 0Z" fill="none" stroke="#f26868" stroke-width="2.8"/><path d="M1231.9 74.0a14.1 14.1 0 1 0 28.2 0a14.1 14.1 0 1 0 -28.2 0Z" fill="#fff" stroke="#fbd5d5" stroke-width="6"/><path d="M1231.9 74.0a14.1 14.1 0 1 0 28.2 0a14.1 14.1 0 1 0 -28.2 0Z" fill="none" stroke="#f26868" stroke-width="2.8"/><path d="M1237.9 68.0a14.1 14.1 0 1 0 28.2 0a14.1 14.1 0 1 0 -28.2 0Z" fill="#fff" stroke="#fbd5d5" stroke-width="6"/><path d="M1237.9 68.0a14.1 14.1 0 1 0 28.2 0a14.1 14.1 0 1 0 -28.2 0Z" fill="none" stroke="#f26868" stroke-width="2.8"/><path d="M1242.9 62.0a14.1 14.1 0 1 0 28.2 0a14.1 14.1 0 1 0 -28.2 0Z" fill="#fff" stroke="#fbd5d5" stroke-width="6"/><path d="M1242.9 62.0a14.1 14.1 0 1 0 28.2 0a14.1 14.1 0 1 0 -28.2 0Z" fill="none" stroke="#f26868" stroke-width="2.8"/><path d="M1247.9 56.0a14.1 14.1 0 1 0 28.2 0a14.1 14.1 0 1 0 -28.2 0Z" fill="#fff" stroke="#fbd5d5" stroke-width="6"/><path d="M1247.9 56.0a14.1 14.1 0 1 0 28.2 0a14.1 14.1 0 1 0 -28.2 0Z" fill="none" stroke="#f26868" stroke-width="2.8"/><path d="M1258.9 47.0a14.1 14.1 0 1 0 28.2 0a14.1 14.1 0 1 0 -28.2 0Z" fill="#fff" stroke="#fbd5d5" stroke-width="6"/><path d="M1258.9 47.0a14.1 14.1 0 1 0 28.2 0a14.1 14.1 0 1 0 -28.2 0Z" fill="none" stroke="#f26868" stroke-width="2.8"/></g>
<path d="M274.0 1180.0 L309.0 1167.0 L330.0 1156.6 L365.0 1138.5 L390.0 1127.5 L409.5 1116.0 L425.5 1109.0 L439.0 1102.0 L450.5 1098.0 L461.0 1096.0 L478.5 1091.0 L486.5 1089.0 L504.0 1085.0 L514.5 1082.5 L533.0 1078.5 L551.0 1075.5 L570.0 1072.0 L590.0 1072.0 L608.6 1068.5 L625.4 1068.5 L643.7 1067.5 L665.6 1064.5 L682.4 1064.5 L701.0 1064.0 L719.0 1064.0 L739.7 1061.0 L756.0 1061.0 L776.3 1060.5 L795.0 1057.5 L812.5 1057.5 L830.0 1056.5 L852.0 1054.5 L870.0 1053.5 L887.5 1051.0 L906.2 1048.5 L924.0 1044.5 L941.8 1035.0 L959.5 998.5 L981.2 904.5 L999.6 789.5 L1017.8 672.0 L1036.5 571.0 L1056.3 493.5 L1074.7 433.0 L1092.5 384.5 L1110.7 333.7 L1128.9 286.3 L1149.2 236.5 L1168.0 184.5 L1186.0 140.0 L1204.0 107.5 L1214.0 88.0 L1224.0 83.0 L1233.0 79.0 L1240.0 69.0 L1246.0 63.0 L1252.0 58.0 L1257.0 54.5 L1262.0 51.0 L1273.0 47.0" stroke="#b3cff4" stroke-width="4.6" fill="none" stroke-linejoin="round"/>
<path d="M274.0 1180.0 L309.0 1167.0 L330.0 1156.6 L365.0 1138.5 L390.0 1127.5 L409.5 1116.0 L425.5 1109.0 L439.0 1102.0 L450.5 1098.0 L461.0 1096.0 L478.5 1091.0 L486.5 1089.0 L504.0 1085.0 L514.5 1082.5 L533.0 1078.5 L551.0 1075.5 L570.0 1072.0 L590.0 1072.0 L608.6 1068.5 L625.4 1068.5 L643.7 1067.5 L665.6 1064.5 L682.4 1064.5 L701.0 1064.0 L719.0 1064.0 L739.7 1061.0 L756.0 1061.0 L776.3 1060.5 L795.0 1057.5 L812.5 1057.5 L830.0 1056.5 L852.0 1054.5 L870.0 1053.5 L887.5 1051.0 L906.2 1048.5 L924.0 1044.5 L941.8 1035.0 L959.5 998.5 L981.2 904.5 L999.6 789.5 L1017.8 672.0 L1036.5 571.0 L1056.3 493.5 L1074.7 433.0 L1092.5 384.5 L1110.7 333.7 L1128.9 286.3 L1149.2 236.5 L1168.0 184.5 L1186.0 140.0 L1204.0 107.5 L1214.0 88.0 L1224.0 83.0 L1233.0 79.0 L1240.0 69.0 L1246.0 63.0 L1252.0 58.0 L1257.0 54.5 L1262.0 51.0 L1273.0 47.0" stroke="#1766de" stroke-width="2.6" fill="none" stroke-linejoin="round"/>
<g><path d="M274.0 1161.7L291.0 1189.2L257.0 1189.2Z" fill="#fff" stroke="#cfe0f8" stroke-width="6"/><path d="M274.0 1161.7L291.0 1189.2L257.0 1189.2Z" fill="none" stroke="#4d8fe8" stroke-width="2.8"/><path d="M309.0 1148.7L326.0 1176.2L292.0 1176.2Z" fill="#fff" stroke="#cfe0f8" stroke-width="6"/><path d="M309.0 1148.7L326.0 1176.2L292.0 1176.2Z" fill="none" stroke="#4d8fe8" stroke-width="2.8"/><path d="M330.0 1138.3L347.0 1165.8L313.0 1165.8Z" fill="#fff" stroke="#cfe0f8" stroke-width="6"/><path d="M330.0 1138.3L347.0 1165.8L313.0 1165.8Z" fill="none" stroke="#4d8fe8" stroke-width="2.8"/><path d="M365.0 1120.2L382.0 1147.7L348.0 1147.7Z" fill="#fff" stroke="#cfe0f8" stroke-width="6"/><path d="M365.0 1120.2L382.0 1147.7L348.0 1147.7Z" fill="none" stroke="#4d8fe8" stroke-width="2.8"/><path d="M390.0 1109.2L407.0 1136.7L373.0 1136.7Z" fill="#fff" stroke="#cfe0f8" stroke-width="6"/><path d="M390.0 1109.2L407.0 1136.7L373.0 1136.7Z" fill="none" stroke="#4d8fe8" stroke-width="2.8"/><path d="M409.5 1097.7L426.5 1125.2L392.5 1125.2Z" fill="#fff" stroke="#cfe0f8" stroke-width="6"/><path d="M409.5 1097.7L426.5 1125.2L392.5 1125.2Z" fill="none" stroke="#4d8fe8" stroke-width="2.8"/><path d="M425.5 1090.7L442.5 1118.2L408.5 1118.2Z" fill="#fff" stroke="#cfe0f8" stroke-width="6"/><path d="M425.5 1090.7L442.5 1118.2L408.5 1118.2Z" fill="none" stroke="#4d8fe8" stroke-width="2.8"/><path d="M439.0 1083.7L456.0 1111.2L422.0 1111.2Z" fill="#fff" stroke="#cfe0f8" stroke-width="6"/><path d="M439.0 1083.7L456.0 1111.2L422.0 1111.2Z" fill="none" stroke="#4d8fe8" stroke-width="2.8"/><path d="M450.5 1079.7L467.5 1107.2L433.5 1107.2Z" fill="#fff" stroke="#cfe0f8" stroke-width="6"/><path d="M450.5 1079.7L467.5 1107.2L433.5 1107.2Z" fill="none" stroke="#4d8fe8" stroke-width="2.8"/><path d="M461.0 1077.7L478.0 1105.2L444.0 1105.2Z" fill="#fff" stroke="#cfe0f8" stroke-width="6"/><path d="M461.0 1077.7L478.0 1105.2L444.0 1105.2Z" fill="none" stroke="#4d8fe8" stroke-width="2.8"/><path d="M478.5 1072.7L495.5 1100.2L461.5 1100.2Z" fill="#fff" stroke="#cfe0f8" stroke-width="6"/><path d="M478.5 1072.7L495.5 1100.2L461.5 1100.2Z" fill="none" stroke="#4d8fe8" stroke-width="2.8"/><path d="M486.5 1070.7L503.5 1098.2L469.5 1098.2Z" fill="#fff" stroke="#cfe0f8" stroke-width="6"/><path d="M486.5 1070.7L503.5 1098.2L469.5 1098.2Z" fill="none" stroke="#4d8fe8" stroke-width="2.8"/><path d="M504.0 1066.7L521.0 1094.2L487.0 1094.2Z" fill="#fff" stroke="#cfe0f8" stroke-width="6"/><path d="M504.0 1066.7L521.0 1094.2L487.0 1094.2Z" fill="none" stroke="#4d8fe8" stroke-width="2.8"/><path d="M514.5 1064.2L531.5 1091.7L497.5 1091.7Z" fill="#fff" stroke="#cfe0f8" stroke-width="6"/><path d="M514.5 1064.2L531.5 1091.7L497.5 1091.7Z" fill="none" stroke="#4d8fe8" stroke-width="2.8"/><path d="M533.0 1060.2L550.0 1087.7L516.0 1087.7Z" fill="#fff" stroke="#cfe0f8" stroke-width="6"/><path d="M533.0 1060.2L550.0 1087.7L516.0 1087.7Z" fill="none" stroke="#4d8fe8" stroke-width="2.8"/><path d="M551.0 1057.2L568.0 1084.7L534.0 1084.7Z" fill="#fff" stroke="#cfe0f8" stroke-width="6"/><path d="M551.0 1057.2L568.0 1084.7L534.0 1084.7Z" fill="none" stroke="#4d8fe8" stroke-width="2.8"/><path d="M570.0 1053.7L587.0 1081.2L553.0 1081.2Z" fill="#fff" stroke="#cfe0f8" stroke-width="6"/><path d="M570.0 1053.7L587.0 1081.2L553.0 1081.2Z" fill="none" stroke="#4d8fe8" stroke-width="2.8"/><path d="M590.0 1053.7L607.0 1081.2L573.0 1081.2Z" fill="#fff" stroke="#cfe0f8" stroke-width="6"/><path d="M590.0 1053.7L607.0 1081.2L573.0 1081.2Z" fill="none" stroke="#4d8fe8" stroke-width="2.8"/><path d="M608.6 1050.2L625.6 1077.7L591.6 1077.7Z" fill="#fff" stroke="#cfe0f8" stroke-width="6"/><path d="M608.6 1050.2L625.6 1077.7L591.6 1077.7Z" fill="none" stroke="#4d8fe8" stroke-width="2.8"/><path d="M625.4 1050.2L642.4 1077.7L608.4 1077.7Z" fill="#fff" stroke="#cfe0f8" stroke-width="6"/><path d="M625.4 1050.2L642.4 1077.7L608.4 1077.7Z" fill="none" stroke="#4d8fe8" stroke-width="2.8"/><path d="M643.7 1049.2L660.7 1076.7L626.7 1076.7Z" fill="#fff" stroke="#cfe0f8" stroke-width="6"/><path d="M643.7 1049.2L660.7 1076.7L626.7 1076.7Z" fill="none" stroke="#4d8fe8" stroke-width="2.8"/><path d="M665.6 1046.2L682.6 1073.7L648.6 1073.7Z" fill="#fff" stroke="#cfe0f8" stroke-width="6"/><path d="M665.6 1046.2L682.6 1073.7L648.6 1073.7Z" fill="none" stroke="#4d8fe8" stroke-width="2.8"/><path d="M682.4 1046.2L699.4 1073.7L665.4 1073.7Z" fill="#fff" stroke="#cfe0f8" stroke-width="6"/><path d="M682.4 1046.2L699.4 1073.7L665.4 1073.7Z" fill="none" stroke="#4d8fe8" stroke-width="2.8"/><path d="M701.0 1045.7L718.0 1073.2L684.0 1073.2Z" fill="#fff" stroke="#cfe0f8" stroke-width="6"/><path d="M701.0 1045.7L718.0 1073.2L684.0 1073.2Z" fill="none" stroke="#4d8fe8" stroke-width="2.8"/><path d="M719.0 1045.7L736.0 1073.2L702.0 1073.2Z" fill="#fff" stroke="#cfe0f8" stroke-width="6"/><path d="M719.0 1045.7L736.0 1073.2L702.0 1073.2Z" fill="none" stroke="#4d8fe8" stroke-width="2.8"/><path d="M739.7 1042.7L756.7 1070.2L722.7 1070.2Z" fill="#fff" stroke="#cfe0f8" stroke-width="6"/><path d="M739.7 1042.7L756.7 1070.2L722.7 1070.2Z" fill="none" stroke="#4d8fe8" stroke-width="2.8"/><path d="M756.0 1042.7L773.0 1070.2L739.0 1070.2Z" fill="#fff" stroke="#cfe0f8" stroke-width="6"/><path d="M756.0 1042.7L773.0 1070.2L739.0 1070.2Z" fill="none" stroke="#4d8fe8" stroke-width="2.8"/><path d="M776.3 1042.2L793.3 1069.7L759.3 1069.7Z" fill="#fff" stroke="#cfe0f8" stroke-width="6"/><path d="M776.3 1042.2L793.3 1069.7L759.3 1069.7Z" fill="none" stroke="#4d8fe8" stroke-width="2.8"/><path d="M795.0 1039.2L812.0 1066.7L778.0 1066.7Z" fill="#fff" stroke="#cfe0f8" stroke-width="6"/><path d="M795.0 1039.2L812.0 1066.7L778.0 1066.7Z" fill="none" stroke="#4d8fe8" stroke-width="2.8"/><path d="M812.5 1039.2L829.5 1066.7L795.5 1066.7Z" fill="#fff" stroke="#cfe0f8" stroke-width="6"/><path d="M812.5 1039.2L829.5 1066.7L795.5 1066.7Z" fill="none" stroke="#4d8fe8" stroke-width="2.8"/><path d="M830.0 1038.2L847.0 1065.7L813.0 1065.7Z" fill="#fff" stroke="#cfe0f8" stroke-width="6"/><path d="M830.0 1038.2L847.0 1065.7L813.0 1065.7Z" fill="none" stroke="#4d8fe8" stroke-width="2.8"/><path d="M852.0 1036.2L869.0 1063.7L835.0 1063.7Z" fill="#fff" stroke="#cfe0f8" stroke-width="6"/><path d="M852.0 1036.2L869.0 1063.7L835.0 1063.7Z" fill="none" stroke="#4d8fe8" stroke-width="2.8"/><path d="M870.0 1035.2L887.0 1062.7L853.0 1062.7Z" fill="#fff" stroke="#cfe0f8" stroke-width="6"/><path d="M870.0 1035.2L887.0 1062.7L853.0 1062.7Z" fill="none" stroke="#4d8fe8" stroke-width="2.8"/><path d="M887.5 1032.7L904.5 1060.2L870.5 1060.2Z" fill="#fff" stroke="#cfe0f8" stroke-width="6"/><path d="M887.5 1032.7L904.5 1060.2L870.5 1060.2Z" fill="none" stroke="#4d8fe8" stroke-width="2.8"/><path d="M906.2 1030.2L923.2 1057.7L889.2 1057.7Z" fill="#fff" stroke="#cfe0f8" stroke-width="6"/><path d="M906.2 1030.2L923.2 1057.7L889.2 1057.7Z" fill="none" stroke="#4d8fe8" stroke-width="2.8"/><path d="M924.0 1026.2L941.0 1053.7L907.0 1053.7Z" fill="#fff" stroke="#cfe0f8" stroke-width="6"/><path d="M924.0 1026.2L941.0 1053.7L907.0 1053.7Z" fill="none" stroke="#4d8fe8" stroke-width="2.8"/><path d="M941.8 1016.7L958.8 1044.2L924.8 1044.2Z" fill="#fff" stroke="#cfe0f8" stroke-width="6"/><path d="M941.8 1016.7L958.8 1044.2L924.8 1044.2Z" fill="none" stroke="#4d8fe8" stroke-width="2.8"/><path d="M959.5 980.2L976.5 1007.7L942.5 1007.7Z" fill="#fff" stroke="#cfe0f8" stroke-width="6"/><path d="M959.5 980.2L976.5 1007.7L942.5 1007.7Z" fill="none" stroke="#4d8fe8" stroke-width="2.8"/><path d="M981.2 886.2L998.2 913.7L964.2 913.7Z" fill="#fff" stroke="#cfe0f8" stroke-width="6"/><path d="M981.2 886.2L998.2 913.7L964.2 913.7Z" fill="none" stroke="#4d8fe8" stroke-width="2.8"/><path d="M999.6 771.2L1016.6 798.7L982.6 798.7Z" fill="#fff" stroke="#cfe0f8" stroke-width="6"/><path d="M999.6 771.2L1016.6 798.7L982.6 798.7Z" fill="none" stroke="#4d8fe8" stroke-width="2.8"/><path d="M1017.8 653.7L1034.8 681.2L1000.8 681.2Z" fill="#fff" stroke="#cfe0f8" stroke-width="6"/><path d="M1017.8 653.7L1034.8 681.2L1000.8 681.2Z" fill="none" stroke="#4d8fe8" stroke-width="2.8"/><path d="M1036.5 552.7L1053.5 580.2L1019.5 580.2Z" fill="#fff" stroke="#cfe0f8" stroke-width="6"/><path d="M1036.5 552.7L1053.5 580.2L1019.5 580.2Z" fill="none" stroke="#4d8fe8" stroke-width="2.8"/><path d="M1056.3 475.2L1073.3 502.7L1039.3 502.7Z" fill="#fff" stroke="#cfe0f8" stroke-width="6"/><path d="M1056.3 475.2L1073.3 502.7L1039.3 502.7Z" fill="none" stroke="#4d8fe8" stroke-width="2.8"/><path d="M1074.7 414.7L1091.7 442.2L1057.7 442.2Z" fill="#fff" stroke="#cfe0f8" stroke-width="6"/><path d="M1074.7 414.7L1091.7 442.2L1057.7 442.2Z" fill="none" stroke="#4d8fe8" stroke-width="2.8"/><path d="M1092.5 366.2L1109.5 393.7L1075.5 393.7Z" fill="#fff" stroke="#cfe0f8" stroke-width="6"/><path d="M1092.5 366.2L1109.5 393.7L1075.5 393.7Z" fill="none" stroke="#4d8fe8" stroke-width="2.8"/><path d="M1110.7 315.4L1127.7 342.9L1093.7 342.9Z" fill="#fff" stroke="#cfe0f8" stroke-width="6"/><path d="M1110.7 315.4L1127.7 342.9L1093.7 342.9Z" fill="none" stroke="#4d8fe8" stroke-width="2.8"/><path d="M1128.9 268.0L1145.9 295.5L1111.9 295.5Z" fill="#fff" stroke="#cfe0f8" stroke-width="6"/><path d="M1128.9 268.0L1145.9 295.5L1111.9 295.5Z" fill="none" stroke="#4d8fe8" stroke-width="2.8"/><path d="M1149.2 218.2L1166.2 245.7L1132.2 245.7Z" fill="#fff" stroke="#cfe0f8" stroke-width="6"/><path d="M1149.2 218.2L1166.2 245.7L1132.2 245.7Z" fill="none" stroke="#4d8fe8" stroke-width="2.8"/><path d="M1168.0 166.2L1185.0 193.7L1151.0 193.7Z" fill="#fff" stroke="#cfe0f8" stroke-width="6"/><path d="M1168.0 166.2L1185.0 193.7L1151.0 193.7Z" fill="none" stroke="#4d8fe8" stroke-width="2.8"/><path d="M1186.0 121.7L1203.0 149.2L1169.0 149.2Z" fill="#fff" stroke="#cfe0f8" stroke-width="6"/><path d="M1186.0 121.7L1203.0 149.2L1169.0 149.2Z" fill="none" stroke="#4d8fe8" stroke-width="2.8"/><path d="M1204.0 89.2L1221.0 116.7L1187.0 116.7Z" fill="#fff" stroke="#cfe0f8" stroke-width="6"/><path d="M1204.0 89.2L1221.0 116.7L1187.0 116.7Z" fill="none" stroke="#4d8fe8" stroke-width="2.8"/><path d="M1214.0 69.7L1231.0 97.2L1197.0 97.2Z" fill="#fff" stroke="#cfe0f8" stroke-width="6"/><path d="M1214.0 69.7L1231.0 97.2L1197.0 97.2Z" fill="none" stroke="#4d8fe8" stroke-width="2.8"/><path d="M1224.0 64.7L1241.0 92.2L1207.0 92.2Z" fill="#fff" stroke="#cfe0f8" stroke-width="6"/><path d="M1224.0 64.7L1241.0 92.2L1207.0 92.2Z" fill="none" stroke="#4d8fe8" stroke-width="2.8"/><path d="M1233.0 60.7L1250.0 88.2L1216.0 88.2Z" fill="#fff" stroke="#cfe0f8" stroke-width="6"/><path d="M1233.0 60.7L1250.0 88.2L1216.0 88.2Z" fill="none" stroke="#4d8fe8" stroke-width="2.8"/><path d="M1240.0 50.7L1257.0 78.2L1223.0 78.2Z" fill="#fff" stroke="#cfe0f8" stroke-width="6"/><path d="M1240.0 50.7L1257.0 78.2L1223.0 78.2Z" fill="none" stroke="#4d8fe8" stroke-width="2.8"/><path d="M1246.0 44.7L1263.0 72.2L1229.0 72.2Z" fill="#fff" stroke="#cfe0f8" stroke-width="6"/><path d="M1246.0 44.7L1263.0 72.2L1229.0 72.2Z" fill="none" stroke="#4d8fe8" stroke-width="2.8"/><path d="M1252.0 39.7L1269.0 67.2L1235.0 67.2Z" fill="#fff" stroke="#cfe0f8" stroke-width="6"/><path d="M1252.0 39.7L1269.0 67.2L1235.0 67.2Z" fill="none" stroke="#4d8fe8" stroke-width="2.8"/><path d="M1257.0 36.2L1274.0 63.7L1240.0 63.7Z" fill="#fff" stroke="#cfe0f8" stroke-width="6"/><path d="M1257.0 36.2L1274.0 63.7L1240.0 63.7Z" fill="none" stroke="#4d8fe8" stroke-width="2.8"/><path d="M1262.0 32.7L1279.0 60.2L1245.0 60.2Z" fill="#fff" stroke="#cfe0f8" stroke-width="6"/><path d="M1262.0 32.7L1279.0 60.2L1245.0 60.2Z" fill="none" stroke="#4d8fe8" stroke-width="2.8"/><path d="M1273.0 28.7L1290.0 56.2L1256.0 56.2Z" fill="#fff" stroke="#cfe0f8" stroke-width="6"/><path d="M1273.0 28.7L1290.0 56.2L1256.0 56.2Z" fill="none" stroke="#4d8fe8" stroke-width="2.8"/></g>
</g>
<path d="M295 95.5H431" stroke="#c4c4c4" stroke-width="7" fill="none"/><path d="M295 95.5H431" stroke="#767676" stroke-width="4.2" fill="none"/>
<path d="M349.9 82.0h25.5v25.5h-25.5Z" fill="#fff" stroke="#cdcdcd" stroke-width="6"/><path d="M349.9 82.0h25.5v25.5h-25.5Z" fill="none" stroke="#6a6a6a" stroke-width="2.8"/>
<path d="M295 167.2H431" stroke="#f9bdbd" stroke-width="7" fill="none"/><path d="M295 167.2H431" stroke="#f24848" stroke-width="4.2" fill="none"/>
<path d="M347.3 166.6a14.2 14.2 0 1 0 28.4 0a14.2 14.2 0 1 0 -28.4 0Z" fill="#fff" stroke="#fbd2d2" stroke-width="6"/><path d="M347.3 166.6a14.2 14.2 0 1 0 28.4 0a14.2 14.2 0 1 0 -28.4 0Z" fill="none" stroke="#f26a6a" stroke-width="2.8"/>
<path d="M295 239.8H431" stroke="#b3cff4" stroke-width="6.5" fill="none"/><path d="M295 239.8H431" stroke="#1766de" stroke-width="3.8" fill="none"/>
<path d="M361.5 221.2L379.0 250.2L344.0 250.2Z" fill="#fff" stroke="#c9dcf7" stroke-width="6"/><path d="M361.5 221.2L379.0 250.2L344.0 250.2Z" fill="none" stroke="#4f90e8" stroke-width="2.8"/>
<text x="0" y="0" font-size="58.4" text-anchor="start" stroke="#fff" stroke-width="0.5" transform="translate(441.2 114.8) scale(1 1.035)">Sample C-7</text>
<text x="0" y="0" font-size="58.4" text-anchor="start" stroke="#fff" stroke-width="0.5" transform="translate(441.2 187.3) scale(1 1.035)">Sample C-5</text>
<text x="0" y="0" font-size="58.4" text-anchor="start" stroke="#fff" stroke-width="0.5" transform="translate(441.2 259.8) scale(1 1.035)">Sample C-1</text>
<text x="0" y="0" font-size="66.5" text-anchor="end" stroke="#fff" stroke-width="0.8" transform="translate(199.5 1208.5) scale(1 1.035)">0.0</text>
<text x="0" y="0" font-size="66.5" text-anchor="end" stroke="#fff" stroke-width="0.8" transform="translate(199.5 1048.2) scale(1 1.035)">0.1</text>
<text x="0" y="0" font-size="66.5" text-anchor="end" stroke="#fff" stroke-width="0.8" transform="translate(199.5 887.8) scale(1 1.035)">0.2</text>
<text x="0" y="0" font-size="66.5" text-anchor="end" stroke="#fff" stroke-width="0.8" transform="translate(199.5 727.5) scale(1 1.035)">0.3</text>
<text x="0" y="0" font-size="66.5" text-anchor="end" stroke="#fff" stroke-width="0.8" transform="translate(199.5 567.1) scale(1 1.035)">0.4</text>
<text x="0" y="0" font-size="66.5" text-anchor="end" stroke="#fff" stroke-width="0.8" transform="translate(199.5 406.8) scale(1 1.035)">0.5</text>
<text x="0" y="0" font-size="66.5" text-anchor="end" stroke="#fff" stroke-width="0.8" transform="translate(199.5 246.4) scale(1 1.035)">0.6</text>
<text x="0" y="0" font-size="66.5" text-anchor="end" stroke="#fff" stroke-width="0.8" transform="translate(199.5 86.1) scale(1 1.035)">0.7</text>
<text x="0" y="0" font-size="66" text-anchor="start" stroke="#fff" stroke-width="0.8" transform="translate(286.1 1300) scale(1 1.035)">100000</text>
<text x="0" y="0" font-size="66" text-anchor="start" stroke="#fff" stroke-width="0.8" transform="translate(502.7 1300) scale(1 1.035)">10000</text>
<text x="0" y="0" font-size="66" text-anchor="start" stroke="#fff" stroke-width="0.8" transform="translate(715.1 1300) scale(1 1.035)">1000</text>
<text x="0" y="0" font-size="66" text-anchor="start" stroke="#fff" stroke-width="0.8" transform="translate(928.4 1300) scale(1 1.035)">100</text>
<text x="0" y="0" font-size="66" text-anchor="start" stroke="#fff" stroke-width="0.8" transform="translate(1145.1 1300) scale(1 1.035)">10</text>
<text x="0" y="0" font-size="66" text-anchor="start" stroke="#fff" stroke-width="0.8" transform="translate(1359.6 1300) scale(1 1.035)">1</text>
<text x="0" y="0" font-size="86.5" text-anchor="start" stroke="#fff" stroke-width="0.6" transform="translate(393.7 1385.6) scale(1 1.035)">Pore size Diameter (nm)</text>
<text x="0" y="0" font-size="86.4" stroke="#fff" stroke-width="0.6" transform="translate(79.5 1102.5) rotate(-90)">Cumulative Intrusion (mL/g)</text>
</g>
</svg></body></html>
